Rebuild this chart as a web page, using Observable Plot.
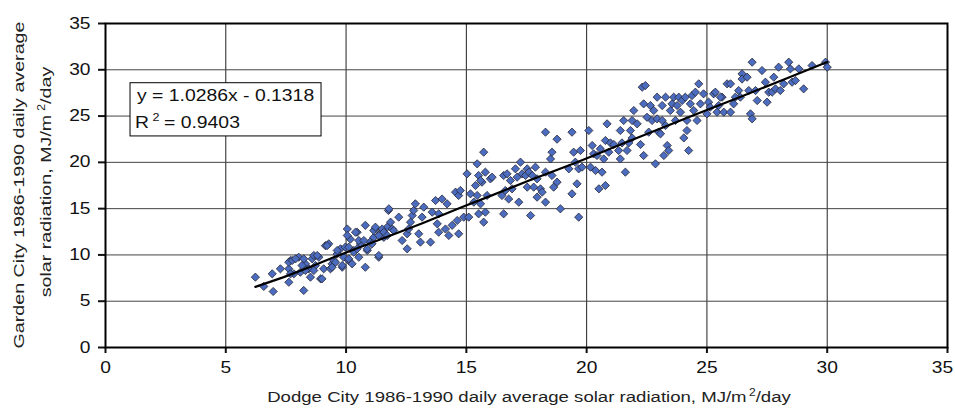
<!DOCTYPE html>
<html><head><meta charset="utf-8">
<script src="https://cdn.jsdelivr.net/npm/d3@7"></script>
<script src="https://cdn.jsdelivr.net/npm/@observablehq/plot@0.6"></script>
<style>body{margin:0;background:#fff} #chart{width:955px;height:410px}</style>
</head><body><div id="chart"></div>
<script>
// Dodge City (x) and Garden City (y) daily average solar radiation, MJ/m2/day
const dodgeCity = [
6.23,6.58,6.97,6.93,7.27,7.62,7.62,7.69,7.83,8.03,8.1,8.24,8.31,8.45,8.52,8.59,8.66,8.73,8.87,8.94,9.07,9.14,9.28,9.35,9.42,9.49,9.63,9.77,9.84,9.9,10.05,10.11,10.18,10.32,10.46,10.53,10.6,10.8,10.8,10.88,11.0,11.15,11.22,11.36,11.43,11.57,11.71,11.76,
7.62,7.69,7.76,7.9,8.17,8.24,8.31,8.66,8.8,9.0,9.21,9.42,9.56,9.63,9.84,9.97,10.11,10.25,10.32,10.46,11.36,
10.05,10.11,10.39,10.53,10.74,10.88,11.08,11.15,11.22,11.36,11.5,11.57,11.71,11.78,11.85,11.92,11.98,12.19,12.33,12.54,12.54,12.6,12.68,12.75,12.81,12.88,13.02,13.09,13.16,13.23,13.51,13.58,13.72,13.79,13.85,13.85,13.99,14.13,14.2,14.27,14.41,14.55,14.62,14.68,14.68,14.75,14.89,15.03,15.1,15.17,15.31,15.38,15.45,15.51,15.51,15.59,15.65,15.72,15.79,15.79,15.86,
15.59,15.72,15.45,
16.0,16.07,16.48,16.55,16.55,16.62,16.69,16.76,16.83,16.9,17.04,17.11,17.18,17.25,17.32,17.46,17.53,17.53,17.6,17.67,17.74,17.8,17.87,17.94,17.94,18.08,18.15,18.29,18.29,18.29,18.5,18.56,18.56,18.63,18.77,18.77,18.91,19.26,19.39,19.39,19.46,19.53,19.6,19.67,19.67,19.74,19.81,20.09,20.16,20.23,20.29,20.37,20.43,20.51,20.57,20.64,20.71,20.78,20.78,20.85,
20.92,20.99,21.13,21.33,21.4,21.4,21.47,21.54,21.61,21.68,21.75,21.82,21.89,21.89,21.96,22.1,22.24,22.31,22.37,22.37,22.44,22.51,22.58,22.65,22.72,22.79,22.86,22.93,22.93,23.0,23.07,23.14,23.14,23.21,23.28,23.28,23.35,23.41,23.48,23.55,23.62,23.69,23.76,23.83,23.9,23.97,24.04,24.1,24.17,24.17,24.24,24.31,24.38,24.45,24.52,24.59,24.66,
24.86,25.0,25.07,25.28,25.42,25.49,25.63,25.7,25.84,25.98,25.98,26.11,26.32,26.39,26.46,26.46,26.67,26.74,26.81,26.88,26.88,27.02,27.09,27.29,27.43,27.5,27.57,27.71,27.78,27.85,27.98,28.05,28.19,28.4,28.47,28.54,28.68,28.82,29.02,29.37,29.93,30.0,
24.73,25.14,25.35,25.56,26.18
];
const gardenCity = [
7.6,6.6,6.05,7.96,8.5,8.5,7.05,9.4,7.96,9.75,8.13,6.16,9.04,8.5,7.6,9.58,9.94,8.86,9.75,7.42,8.5,11.0,11.2,8.5,9.04,9.4,10.1,10.66,8.67,9.75,12.8,9.4,11.7,10.48,12.45,9.75,11.2,13.2,8.67,10.48,11.4,11.9,12.8,9.75,12.3,11.9,13.0,14.8,
9.21,7.96,9.4,9.58,8.86,9.58,8.32,8.32,9.94,7.42,11.0,8.67,9.21,10.48,8.86,10.84,9.58,9.04,10.3,10.66,9.94,
12.1,10.84,12.45,11.56,11.56,10.66,11.2,12.64,13.0,12.1,12.8,12.45,12.1,14.98,13.54,12.8,12.64,14.08,11.56,10.66,12.28,12.8,13.54,14.26,14.8,15.52,12.28,11.38,14.08,15.16,11.38,14.62,15.88,13.36,12.45,14.44,16.04,12.8,15.52,12.1,13.2,16.78,13.72,16.42,12.28,16.96,14.08,18.76,14.08,16.6,15.7,17.5,19.84,18.58,14.44,15.52,17.86,13.54,18.94,14.62,16.42,
18.04,21.1,16.42,
18.22,18.4,16.42,18.58,14.44,16.96,18.76,16.04,18.04,17.14,19.3,18.4,15.7,20.02,18.76,18.58,19.3,17.32,18.94,14.26,18.58,17.32,19.48,18.22,16.24,17.14,16.78,23.26,18.94,15.7,20.37,21.1,18.58,17.32,22.5,17.86,14.98,19.3,16.6,23.26,21.1,20.02,17.68,19.3,14.08,21.28,19.48,23.44,19.48,21.82,20.92,19.12,20.74,17.14,21.46,18.94,20.37,22.36,17.5,24.16,
21.1,22.1,21.93,21.28,23.44,20.37,22.1,24.52,18.94,21.28,22.1,23.44,24.52,22.64,25.6,24.16,21.93,28.12,26.32,20.74,28.3,24.87,23.26,26.14,24.52,25.6,19.84,27.04,24.7,23.26,23.08,26.14,24.52,20.74,27.04,23.98,21.82,21.28,25.6,26.32,27.04,24.52,26.14,27.04,25.42,26.68,22.64,27.04,23.44,24.52,21.28,26.32,27.22,25.6,27.58,24.52,28.48,
27.4,25.24,26.5,27.4,25.42,26.14,27.04,25.42,28.48,28.48,25.42,26.32,27.76,27.04,29.56,29.0,29.2,27.76,25.24,24.7,30.82,27.76,26.68,29.92,28.66,26.5,27.58,27.58,29.2,27.94,30.28,27.76,28.48,30.82,30.1,28.66,28.84,30.1,27.94,30.46,30.82,30.28,
26.32,25.96,27.58,27.04,27.04
];
// Trend line as drawn in the reference
const trendX = [6.23,7.41,8.5,9.49,10.6,11.85,13.2,14.75,15.93,17.53,19.33,20.3,21.0,22.24,24.31,26.46,28.2,30.0];
const trendY = [6.55,7.6,8.7,9.75,10.85,12.1,13.45,15.1,16.3,17.95,19.75,20.75,21.5,22.8,24.95,27.15,28.95,30.85];
const axisTicks = [0,5,10,15,20,25,30,35];
const equationLine = "y = 1.0286x - 0.1318";
const r2Line = "= 0.9403";

const pts = dodgeCity.map((x, i) => ({x, y: gardenCity[i]}));
const trend = trendX.map((x, i) => ({x, y: trendY[i]}));
const font = "'Liberation Sans', Arial, sans-serif";
const WIDE = 1.2; // reference glyphs are wider than Liberation Sans

const plot = Plot.plot({
  width: 955, height: 410,
  marginLeft: 105, marginRight: 8, marginTop: 23, marginBottom: 63,
  style: {fontFamily: font, fontSize: "16px", color: "#111", background: "#fff", overflow: "visible"},
  x: {domain: [0, 35]},
  y: {domain: [0, 35]},
  marks: [
    Plot.gridX(axisTicks, {stroke: "#222", strokeOpacity: 1, strokeWidth: 1}),
    Plot.gridY(axisTicks, {stroke: "#444", strokeOpacity: 1, strokeWidth: 1}),
    Plot.axisX(axisTicks, {tickSize: 6, tickPadding: 8, label: null, fontSize: 16, strokeWidth: 2, tickFormat: d => d}),
    Plot.axisY(axisTicks, {tickSize: 7, tickPadding: 8, label: null, fontSize: 16, strokeWidth: 2, tickFormat: d => d}),
    Plot.frame({stroke: "#000", strokeWidth: 2}),
    Plot.dot(pts, {x: "x", y: "y", symbol: "diamond2", r: 3.7, fill: "#4c6cbf", stroke: "#262634", strokeWidth: 0.8}),
    Plot.line(trend, {x: "x", y: "y", stroke: "#000", strokeWidth: 2.2}),
    Plot.rect([{}], {x1: 1.04, x2: 8.98, y1: 22.8, y2: 28.55, fill: "#fff", stroke: "#000", strokeWidth: 1})
  ]
});
document.getElementById("chart").appendChild(plot);

// widen tick labels along their reading direction
function widen(el, s, shift = 0) {
  const t = el.getAttribute("transform");
  if (t) el.setAttribute("transform", `translate(${shift},0) ${t} scale(${s},1)`);
  else {
    const x = +el.getAttribute("x") || 0, y = +el.getAttribute("y") || 0;
    el.removeAttribute("x"); el.removeAttribute("y");
    el.setAttribute("transform", `translate(${x + shift},${y}) scale(${s},1)`);
  }
}
plot.querySelectorAll('g[aria-label="y-axis tick label"] text').forEach(el => widen(el, WIDE));
const xLabels = plot.querySelectorAll('g[aria-label="x-axis tick label"] text');
xLabels.forEach((el, i) => widen(el, WIDE, i === xLabels.length - 1 ? -5 : 0));

const svg = d3.select(plot);
const sx = plot.scale("x"), sy = plot.scale("y");
const bx = sx.apply(1.04), by = sy.apply(28.55);

// Equation box text
const eq = svg.append("g").attr("font-family", font).attr("fill", "#111").attr("text-anchor", "start").attr("font-size", 17);
eq.append("text").attr("transform", `translate(${bx + 7},${by + 18}) scale(1.14,1)`).text(equationLine);
const r2 = eq.append("text").attr("transform", `translate(${bx + 5},${by + 45}) scale(1.14,1)`);
r2.append("tspan").text("R");
r2.append("tspan").attr("dy", -7).attr("font-size", 11).attr("dx", 3).text("2");
r2.append("tspan").attr("dy", 7).attr("dx", 4).text(r2Line);

// Axis titles
const titles = svg.append("g").attr("font-family", font).attr("fill", "#222").attr("font-size", 15.5).attr("text-anchor", "middle");
const xt = titles.append("text").attr("transform", `translate(${(sx.apply(0) + sx.apply(35)) / 2 + 3},402) scale(${WIDE},1)`);
xt.append("tspan").text("Dodge City 1986-1990 daily average solar radiation, MJ/m");
xt.append("tspan").attr("dy", -6).attr("font-size", 10).attr("dx", 2).text("2");
xt.append("tspan").attr("dy", 6).text("/day");

const cy = (sy.apply(0) + sy.apply(35)) / 2;
titles.append("text").attr("transform", `translate(24,${cy}) rotate(-90) scale(1.27,1)`)
  .text("Garden City 1986-1990 daily average");
const yt2 = titles.append("text").attr("transform", `translate(51,${cy - 3}) rotate(-90) scale(1.27,1)`);
yt2.append("tspan").text("solar radiation, MJ/m");
yt2.append("tspan").attr("dy", -6).attr("font-size", 10).attr("dx", 3).text("2");
yt2.append("tspan").attr("dy", 6).text("/day");
</script>
</body></html>
